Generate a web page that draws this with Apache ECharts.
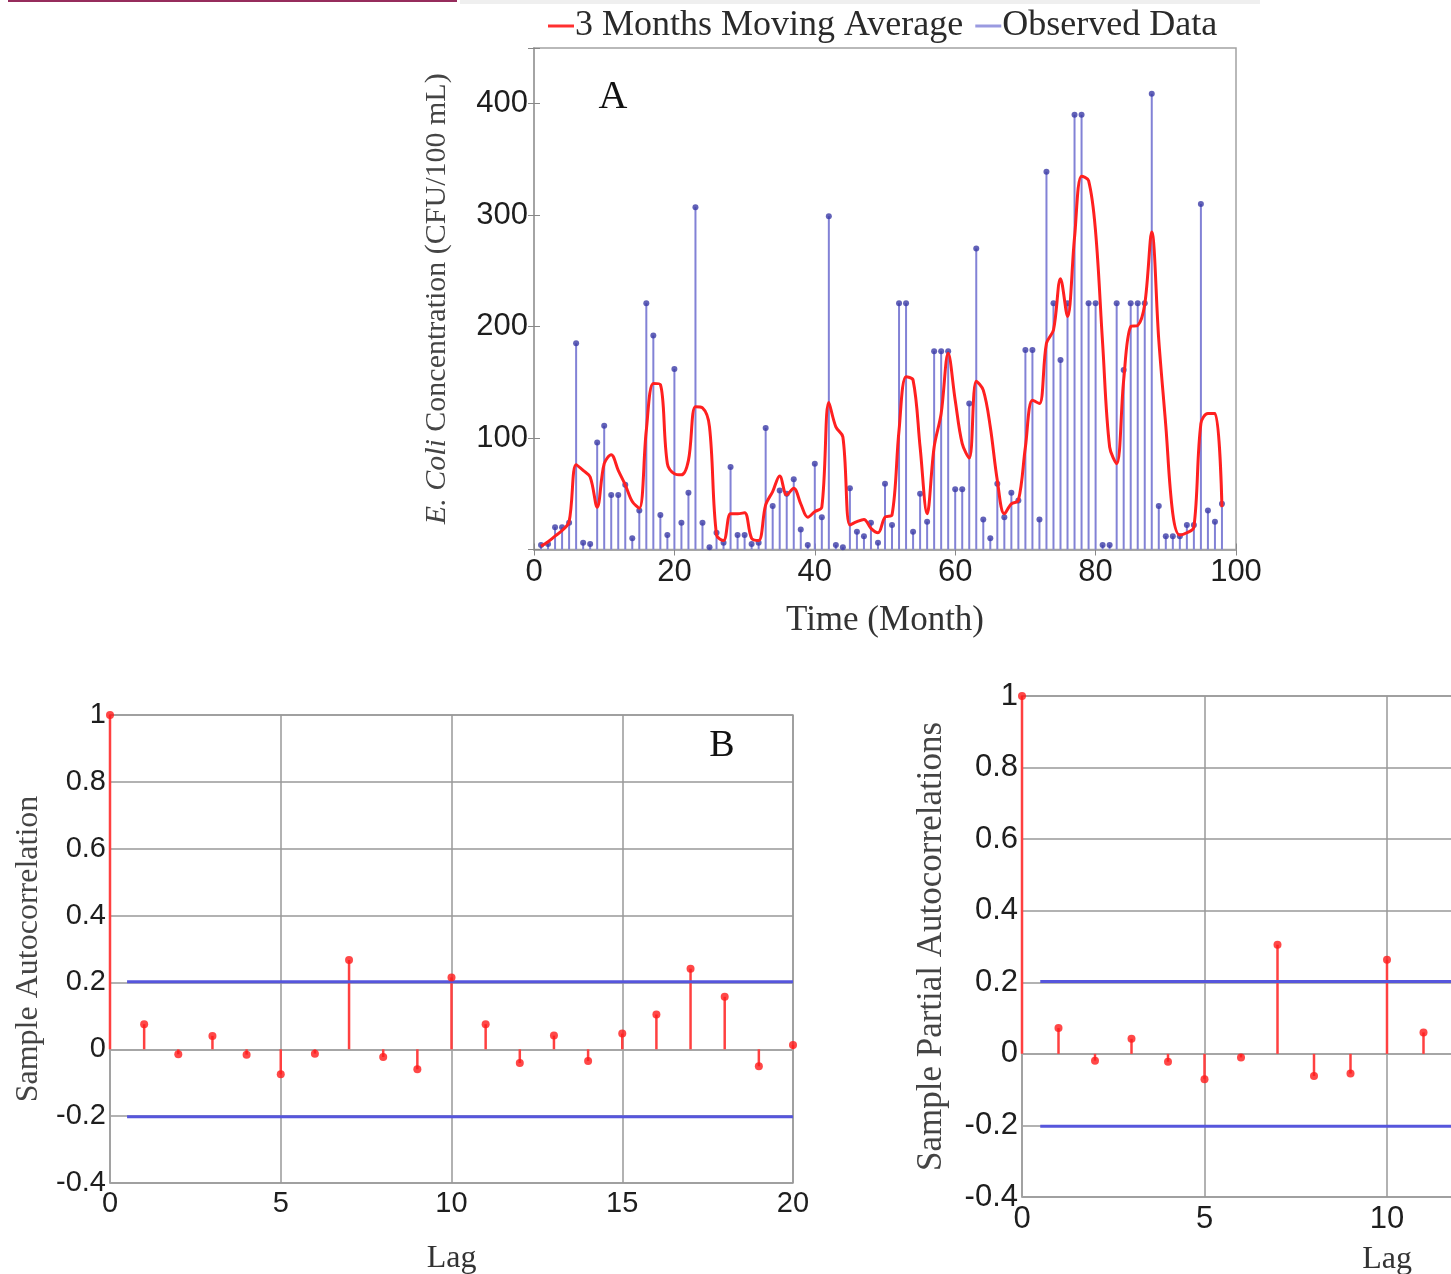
<!DOCTYPE html>
<html lang="en">
<head>
    <meta charset="UTF-8">
    <title>E. Coli time series, ACF and PACF</title>
    <style>
        body { margin: 0; background: #fff; }
    </style>
</head>
<body>
<div id="main" style="width: 1451px;height:1274px;"></div>

<script src="https://cdn.jsdelivr.net/npm/echarts@6/dist/echarts.min.js"></script>

<script type="text/javascript">
    // panel A: observed monthly values (month 1..98) and the 3 month moving average
    var months = [];
    for (var m = 1; m <= 98; m++) months.push(m);
    var observed = [4, 5, 20, 20, 24, 185, 6, 5, 96, 111, 49, 49, 58, 10, 35, 221, 192, 31, 13, 162,
        24, 51, 307, 24, 2, 15, 6, 74, 13, 13, 5, 6, 109, 39, 53, 50, 63, 18, 4, 77,
        29, 299, 4, 2, 55, 16, 12, 24, 6, 59, 22, 221, 221, 16, 50, 25, 178, 178, 178, 54,
        54, 131, 270, 27, 10, 59, 29, 51, 44, 179, 179, 27, 339, 221, 170, 221, 390, 390, 221, 221,
        4, 4, 221, 161, 221, 221, 221, 409, 39, 12, 12, 12, 22, 22, 310, 35, 25, 41];
    var movingAvg = [3, 7, 12, 17, 25, 76, 71, 65, 38, 77, 85, 71, 58, 43, 37, 107, 149, 148, 77, 68,
        67, 80, 128, 127, 110, 13, 8, 32, 32, 33, 10, 8, 40, 52, 66, 49, 55, 41, 29, 34,
        38, 132, 110, 101, 22, 25, 27, 19, 15, 29, 31, 107, 155, 152, 92, 32, 92, 122, 176, 134,
        95, 82, 151, 143, 110, 62, 32, 41, 44, 92, 134, 131, 185, 197, 243, 209, 280, 335, 331, 285,
        185, 92, 77, 152, 200, 201, 220, 285, 188, 111, 32, 13, 15, 20, 113, 122, 122, 38];

    // panel B: sample autocorrelation, lags 0..20
    var acfLags = [0, 1, 2, 3, 4, 5, 6, 7, 8, 9, 10, 11, 12, 13, 14, 15, 16, 17, 18, 19, 20];
    var acfValues = [1, 0.075, -0.015, 0.04, -0.016, -0.075, -0.013, 0.267, -0.023, -0.06, 0.215,
        0.075, -0.041, 0.041, -0.035, 0.047, 0.104, 0.241, 0.157, -0.051, 0.013];

    // panel C: sample partial autocorrelations (only lags 0..11 are inside the picture)
    var pacfLags = [0, 1, 2, 3, 4, 5, 6, 7, 8, 9, 10, 11];
    var pacfValues = [1, 0.072, -0.019, 0.042, -0.022, -0.071, -0.01, 0.305, -0.062, -0.055, 0.263, 0.06];

    // confidence bounds
    var boundStart = 0.5;
    var boundEnd = 20;
    var bound = 0.202;

    function pairs(xs, ys) {
        var out = [];
        for (var i = 0; i < xs.length; i++) out.push([xs[i], ys[i]]);
        return out;
    }

    var numFont = 'Liberation Sans, Arial, sans-serif';
    var serifFont = 'Liberation Serif, Times New Roman, serif';
    var boxColor = '#a3a3a3';

    function stemAxisX(grid, fontSize, margin, gap) {
        return {
            gridIndex: grid, type: 'value', min: 0, max: 20, interval: 5,
            axisLine: {lineStyle: {color: boxColor, width: 1.5}},
            axisTick: {show: false},
            splitLine: {show: true, lineStyle: {color: '#999', width: 1.5}},
            axisLabel: {color: '#1e1e1e', fontSize: fontSize, fontFamily: numFont, margin: margin},
            name: 'Lag', nameLocation: 'middle', nameGap: gap,
            nameTextStyle: {fontFamily: serifFont, fontSize: 32, color: '#333'}
        };
    }

    function stemAxisY(grid, fontSize, name, nameSize, gap) {
        return {
            gridIndex: grid, type: 'value', min: -0.4, max: 1, interval: 0.2,
            axisLine: {show: true, lineStyle: {color: boxColor, width: 1.5}},
            axisTick: {show: false},
            splitLine: {show: true, lineStyle: {color: '#999', width: 1.5}},
            axisLabel: {color: '#1e1e1e', fontSize: fontSize, fontFamily: numFont, margin: 4},
            name: name, nameLocation: 'middle', nameGap: gap, nameRotate: 90,
            nameTextStyle: {fontFamily: serifFont, fontSize: nameSize, color: '#444'}
        };
    }

    var myChart = echarts.init(document.getElementById('main'));

    var option = {
        animation: false,
        backgroundColor: '#fff',
        legend: {
            left: 543, top: 3,
            itemWidth: 26, itemHeight: 3, itemGap: 12,
            textStyle: {fontFamily: serifFont, fontSize: 36, color: '#2a2a2a', padding: [0, 0, 0, -4]},
            data: [
                {name: '3 Months Moving Average', icon: 'rect', itemStyle: {color: '#ff3030'}},
                {name: 'Observed Data', icon: 'rect', itemStyle: {color: '#9a9ae0'}}
            ]
        },
        grid: [
            {left: 534, top: 48, width: 702, height: 501.5, outerBoundsMode: 'none', show: true, borderColor: boxColor, borderWidth: 1.5},
            {left: 110, top: 715, width: 683, height: 468, outerBoundsMode: 'none', show: true, borderColor: boxColor, borderWidth: 1.5},
            {left: 1022, top: 696, width: 730, height: 501, outerBoundsMode: 'none', show: true, borderColor: boxColor, borderWidth: 1.5}
        ],
        xAxis: [
            {
                gridIndex: 0, type: 'value', min: 0, max: 100, interval: 20, position: 'bottom',
                axisLine: {lineStyle: {color: boxColor, width: 1.5}},
                axisTick: {inside: true, length: 6, lineStyle: {color: '#888'}},
                splitLine: {show: false},
                axisLabel: {color: '#1e1e1e', fontSize: 31, fontFamily: numFont, margin: 7},
                name: 'Time (Month)', nameLocation: 'middle', nameGap: 54,
                nameTextStyle: {fontFamily: serifFont, fontSize: 35, color: '#333'}
            },
            {
                gridIndex: 0, type: 'value', min: 0, max: 100, interval: 20, position: 'top',
                axisLine: {lineStyle: {color: boxColor, width: 1.5}},
                axisTick: {inside: true, length: 6, lineStyle: {color: '#888'}},
                splitLine: {show: false}, axisLabel: {show: false}
            },
            stemAxisX(1, 29, 6, 60),
            stemAxisX(2, 31, 7, 47)
        ],
        yAxis: [
            {
                gridIndex: 0, type: 'value', min: 0, max: 450, interval: 100, position: 'left',
                axisLine: {show: true, lineStyle: {color: boxColor, width: 1.5}},
                axisTick: {inside: true, length: 6, lineStyle: {color: '#888'}},
                splitLine: {show: false},
                axisLabel: {
                    color: '#1e1e1e', fontSize: 31, fontFamily: numFont, margin: 6,
                    formatter: function (v) { return (v > 0 && v % 100 === 0) ? v : ''; }
                },
                name: '{i|E. Coli} Concentration (CFU/100 mL)', nameLocation: 'middle', nameGap: 82, nameRotate: 90,
                nameTextStyle: {
                    fontFamily: serifFont, fontSize: 30, color: '#444',
                    rich: {i: {fontFamily: serifFont, fontSize: 30, fontStyle: 'italic', color: '#444'}}
                }
            },
            {
                gridIndex: 0, type: 'value', min: 0, max: 450, interval: 100, position: 'right',
                axisLine: {show: true, lineStyle: {color: boxColor, width: 1.5}},
                axisTick: {inside: true, length: 6, lineStyle: {color: '#888'}},
                splitLine: {show: false}, axisLabel: {show: false}
            },
            stemAxisY(1, 29, 'Sample Autocorrelation', 32, 65),
            stemAxisY(2, 31, 'Sample Partial Autocorrelations', 35, 73)
        ],
        series: [
            // panel A stems
            {
                name: 'Observed Data', type: 'bar', xAxisIndex: 0, yAxisIndex: 0,
                barWidth: 2, itemStyle: {color: '#8282d6'},
                data: pairs(months, observed)
            },
            {
                name: 'Observed Data', type: 'scatter', xAxisIndex: 0, yAxisIndex: 0,
                symbol: 'circle', symbolSize: 6, itemStyle: {color: '#3b3ba6'},
                data: pairs(months, observed)
            },
            {
                name: '3 Months Moving Average', type: 'line', xAxisIndex: 0, yAxisIndex: 0,
                showSymbol: false, smooth: 0.35, z: 5,
                lineStyle: {color: '#ff2020', width: 3},
                itemStyle: {color: '#ff2020'},
                data: pairs(months, movingAvg)
            },
            // panel B
            {
                type: 'bar', xAxisIndex: 2, yAxisIndex: 2, barWidth: 2.5,
                itemStyle: {color: '#ff4040'}, data: pairs(acfLags, acfValues)
            },
            {
                type: 'scatter', xAxisIndex: 2, yAxisIndex: 2, symbolSize: 8,
                itemStyle: {color: '#ff1a1a'}, data: pairs(acfLags, acfValues), z: 4
            },
            {
                type: 'line', xAxisIndex: 2, yAxisIndex: 2, showSymbol: false,
                lineStyle: {color: '#5656dc', width: 3},
                data: [[boundStart, bound], [boundEnd, bound]]
            },
            {
                type: 'line', xAxisIndex: 2, yAxisIndex: 2, showSymbol: false,
                lineStyle: {color: '#5656dc', width: 3},
                data: [[boundStart, -bound], [boundEnd, -bound]]
            },
            // panel C
            {
                type: 'bar', xAxisIndex: 3, yAxisIndex: 3, barWidth: 2.5,
                itemStyle: {color: '#ff4040'}, data: pairs(pacfLags, pacfValues)
            },
            {
                type: 'scatter', xAxisIndex: 3, yAxisIndex: 3, symbolSize: 8,
                itemStyle: {color: '#ff1a1a'}, data: pairs(pacfLags, pacfValues), z: 4
            },
            {
                type: 'line', xAxisIndex: 3, yAxisIndex: 3, showSymbol: false,
                lineStyle: {color: '#5656dc', width: 3},
                data: [[boundStart, bound], [boundEnd, bound]]
            },
            {
                type: 'line', xAxisIndex: 3, yAxisIndex: 3, showSymbol: false,
                lineStyle: {color: '#5656dc', width: 3},
                data: [[boundStart, -bound], [boundEnd, -bound]]
            }
        ],
        graphic: [
            // clipped link underline at the very top left, and the faint band above the legend
            {type: 'rect', left: 8, top: 0, shape: {width: 449, height: 2}, style: {fill: '#962c5c'}},
            {type: 'rect', left: 460, top: 0, shape: {width: 800, height: 4}, style: {fill: '#efefef'}},
            {type: 'text', x: 613, y: 97, style: {text: 'A', fontFamily: serifFont, fontSize: 40, fill: '#111', textAlign: 'center', textVerticalAlign: 'middle'}},
            {type: 'text', x: 722, y: 746, style: {text: 'B', fontFamily: serifFont, fontSize: 38, fill: '#111', textAlign: 'center', textVerticalAlign: 'middle'}}
        ]
    };

    myChart.setOption(option);
</script>
</body>
</html>
